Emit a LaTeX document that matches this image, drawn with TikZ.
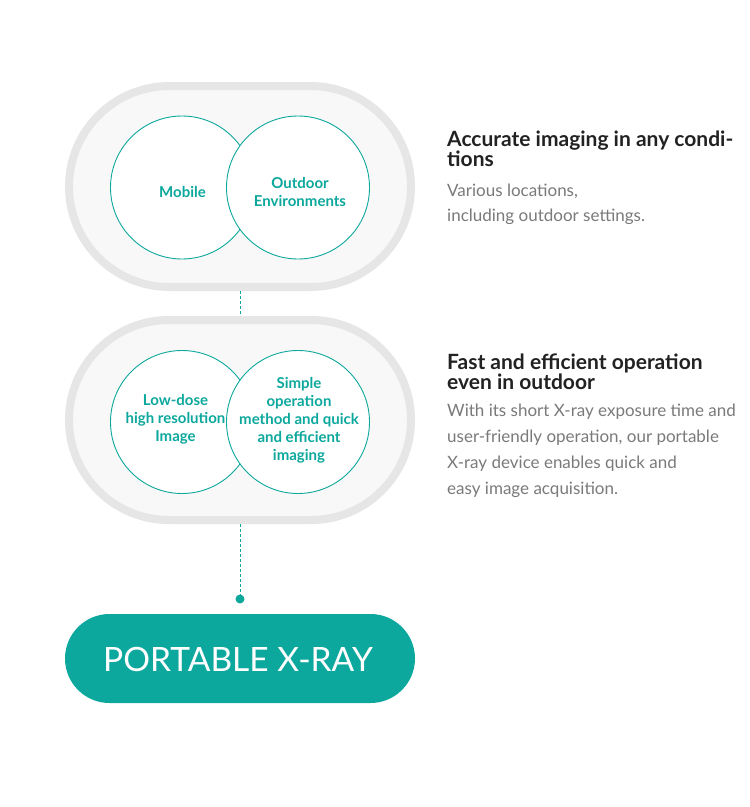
\documentclass[tikz,border=0pt]{standalone}
\usepackage{fontspec}
\setmainfont{Lato}
\usetikzlibrary{shapes.misc}
\definecolor{teal1}{HTML}{0DA89D}
\definecolor{capborder}{HTML}{E6E6E6}
\definecolor{capfill}{HTML}{F8F8F8}
\definecolor{headc}{HTML}{222222}
\definecolor{bodyc}{HTML}{7A7A7A}
\tikzset{
  capsule/.style={rounded rectangle, draw=capborder, fill=capfill, line width=8pt, minimum width=342pt, inner sep=0pt},
  bubble/.style={circle, draw=teal1, fill=white, line width=0.9pt, minimum size=143pt, inner sep=0pt},
  btext/.style={inner sep=0pt, text=teal1, font=\fontsize{15}{18}\selectfont\bfseries, align=center},
  pill/.style={rounded rectangle, fill=teal1, minimum width=350pt, minimum height=89pt, inner sep=0pt},
  pilltext/.style={inner sep=0pt, text=white, font=\fontsize{33.5}{36}\selectfont},
  heading/.style={anchor=base west, inner sep=0pt, text=headc, font=\fontsize{21}{20}\selectfont\bfseries, align=left},
  body/.style={anchor=base west, inner sep=0pt, text=bodyc, font=\fontsize{17}{25}\selectfont, align=left},
  link/.style={draw=teal1, line width=1pt, dash pattern=on 3pt off 2pt}
}
\begin{document}
\begin{tikzpicture}[x=1pt,y=-1pt]
\useasboundingbox[fill=white] (0,0) rectangle (750,807);
% capsules
\node[capsule, minimum height=201pt] (cap1) at (240,186.5) {};
\node[capsule, minimum height=200pt] (cap2) at (240,420) {};
% circles
\node[bubble] (c1) at (182,187.5) {};
\node[bubble] (c2) at (298,187.5) {};
\node[bubble] (c3) at (182,422) {};
\node[bubble] (c4) at (298,422) {};
% circle texts
\node[btext] (mobile) at (182.5,191.5) {Mobile};
\node[btext] (outdoor) at (300,192) {Outdoor\\Environments};
\node[btext] (lowdose) at (175.5,419) {Low-dose\\high resolution\\Image};
\node[btext] (simple) at (299,420) {Simple\\operation\\method and quick\\and efficient\\imaging};
% pill
\node[pill] (pill) at (240,658.5) {};
\node[pilltext] (xray) at (238,659) {PORTABLE X-RAY};
% connectors
\coordinate (dot) at (240,599);
\draw[link] (cap1.south) -- (cap2.north);
\draw[link] (cap2.south) -- (dot);
\fill[teal1] (dot) circle (4.5pt);
% texts
\node[heading] (h1) at (447,166.7) {Accurate imaging in any condi-\\tions};
\node[body] (b1) at (447,221.7) {Various locations,\\including outdoor settings.};
\node[heading] (h2) at (447,389.3) {Fast and efficient operation\\even in outdoor};
\node[body, font=\fontsize{17}{26}\selectfont] (b2) at (447,494) {With its short X-ray exposure time and\\user-friendly operation, our portable\\X-ray device enables quick and\\easy image acquisition.};
\end{tikzpicture}
\end{document}
